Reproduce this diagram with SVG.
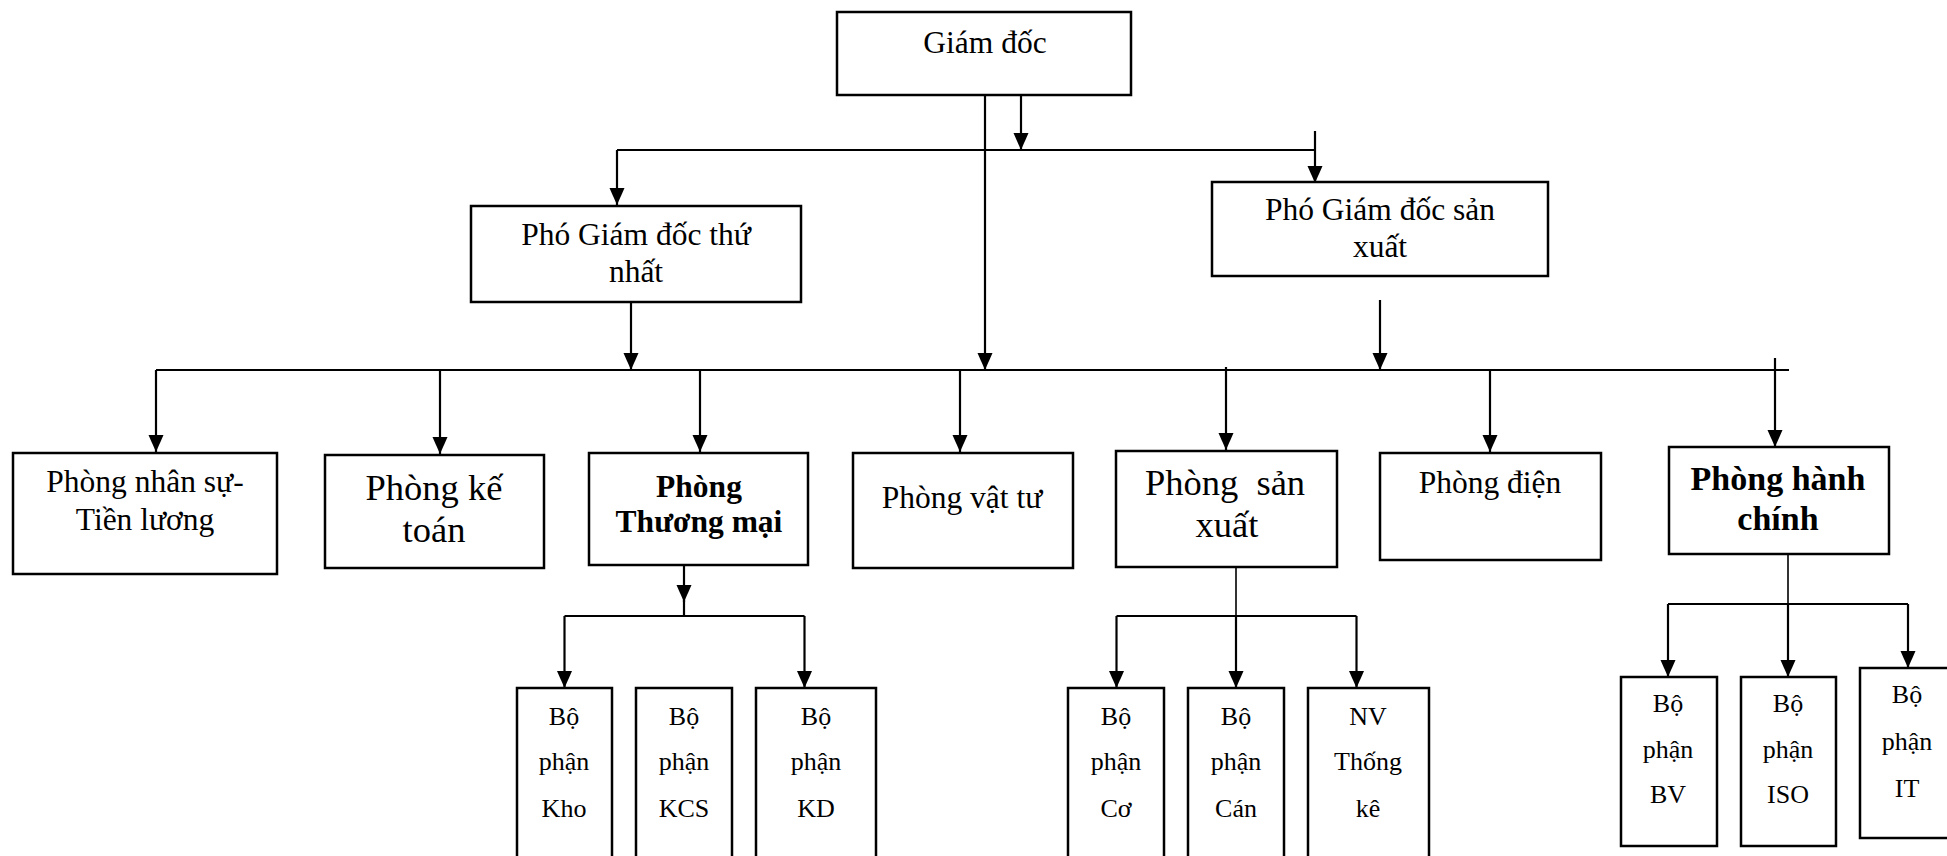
<svg xmlns="http://www.w3.org/2000/svg" width="1947" height="856" viewBox="0 0 1947 856">
  <style>
    .box { fill: #fff; stroke: #000; stroke-width: 2.5; }
    .t { font-family: "Liberation Serif", "Times New Roman", serif; font-size: 31.5px; text-anchor: middle; fill: #000; }
    .big { font-size: 36.5px; }
    .b { font-weight: bold; }
    .hb { font-size: 34px; font-weight: bold; }
    .sm { font-size: 26px; }
    .ln { fill: none; stroke: #000; stroke-width: 2.2; }
    .thin { stroke-width: 1.6; }
  </style>
  <defs>
    <marker id="arr" markerUnits="userSpaceOnUse" markerWidth="18" markerHeight="16" refX="17" refY="7.5" orient="auto">
      <path d="M0,0 L17,7.5 L0,15 z" fill="#000"/>
    </marker>
  </defs>

  <rect width="1947" height="856" fill="#fff"/>

  <!-- connectors -->
  <g id="connectors">
    <!-- director level -->
    <line class="ln" x1="985" y1="96" x2="985" y2="370" marker-end="url(#arr)"/>
    <line class="ln" x1="1021" y1="96" x2="1021" y2="150" marker-end="url(#arr)"/>
    <line class="ln" x1="617" y1="150" x2="1315" y2="150"/>
    <line class="ln" x1="617" y1="150" x2="617" y2="205" marker-end="url(#arr)"/>
    <line class="ln" x1="1315" y1="131" x2="1315" y2="183" marker-end="url(#arr)"/>
    <!-- deputies to department bus -->
    <line class="ln" x1="631" y1="303" x2="631" y2="370" marker-end="url(#arr)"/>
    <line class="ln" x1="1380" y1="300" x2="1380" y2="370" marker-end="url(#arr)"/>
    <!-- department bus -->
    <line class="ln" x1="156" y1="370" x2="1789" y2="370"/>
    <line class="ln" x1="156" y1="370" x2="156" y2="452" marker-end="url(#arr)"/>
    <line class="ln" x1="440" y1="370" x2="440" y2="454" marker-end="url(#arr)"/>
    <line class="ln" x1="700" y1="370" x2="700" y2="452" marker-end="url(#arr)"/>
    <line class="ln" x1="960" y1="370" x2="960" y2="452" marker-end="url(#arr)"/>
    <line class="ln" x1="1226" y1="367" x2="1226" y2="450" marker-end="url(#arr)"/>
    <line class="ln" x1="1490" y1="370" x2="1490" y2="452" marker-end="url(#arr)"/>
    <line class="ln" x1="1775" y1="358" x2="1775" y2="447" marker-end="url(#arr)"/>
    <!-- trade department units -->
    <line class="ln" x1="684" y1="535" x2="684" y2="602" marker-end="url(#arr)"/>
    <line class="ln" x1="684" y1="600" x2="684" y2="616"/>
    <line class="ln" x1="564.5" y1="616" x2="804.5" y2="616"/>
    <line class="ln" x1="564.5" y1="616" x2="564.5" y2="688" marker-end="url(#arr)"/>
    <line class="ln" x1="804.5" y1="616" x2="804.5" y2="688" marker-end="url(#arr)"/>
    <!-- production department units -->
    <line class="ln thin" x1="1236" y1="567" x2="1236" y2="616"/>
    <line class="ln" x1="1116.5" y1="616" x2="1356.5" y2="616"/>
    <line class="ln" x1="1116.5" y1="616" x2="1116.5" y2="688" marker-end="url(#arr)"/>
    <line class="ln" x1="1236" y1="616" x2="1236" y2="688" marker-end="url(#arr)"/>
    <line class="ln" x1="1356.5" y1="616" x2="1356.5" y2="688" marker-end="url(#arr)"/>
    <!-- administration units -->
    <line class="ln thin" x1="1788" y1="554" x2="1788" y2="604"/>
    <line class="ln" x1="1668" y1="604" x2="1908" y2="604"/>
    <line class="ln" x1="1668" y1="604" x2="1668" y2="677" marker-end="url(#arr)"/>
    <line class="ln" x1="1788" y1="604" x2="1788" y2="677" marker-end="url(#arr)"/>
    <line class="ln" x1="1908" y1="604" x2="1908" y2="668" marker-end="url(#arr)"/>
  </g>

  <g id="giam-doc">
    <rect class="box" x="837" y="12" width="294" height="83"/>
    <text class="t" x="985" y="53">Giám đốc</text>
  </g>

  <g id="pho-gd-thu-nhat">
    <rect class="box" x="471" y="206" width="330" height="96"/>
    <text class="t" x="636" y="245">Phó Giám đốc thứ</text>
    <text class="t" x="636" y="282">nhất</text>
  </g>

  <g id="pho-gd-san-xuat">
    <rect class="box" x="1212" y="182" width="336" height="94"/>
    <text class="t" x="1380" y="220">Phó Giám đốc sản</text>
    <text class="t" x="1380" y="257">xuất</text>
  </g>

  <g id="phong-nhan-su">
    <rect class="box" x="13" y="453" width="264" height="121"/>
    <text class="t" x="145" y="492">Phòng nhân sự-</text>
    <text class="t" x="145" y="530">Tiền lương</text>
  </g>

  <g id="phong-ke-toan">
    <rect class="box" x="325" y="455" width="219" height="113"/>
    <text class="t big" x="434" y="500">Phòng kế</text>
    <text class="t big" x="434" y="542">toán</text>
  </g>

  <g id="phong-thuong-mai">
    <rect class="box" x="589" y="453" width="219" height="112"/>
    <text class="t b" x="699" y="497">Phòng</text>
    <text class="t b" x="699" y="532">Thương mại</text>
  </g>

  <g id="phong-vat-tu">
    <rect class="box" x="853" y="453" width="220" height="115"/>
    <text class="t" x="962" y="508">Phòng vật tư</text>
  </g>

  <g id="phong-san-xuat">
    <rect class="box" x="1116" y="451" width="221" height="116"/>
    <text class="t big" x="1225" y="495" xml:space="preserve">Phòng  sản</text>
    <text class="t big" x="1227" y="537">xuất</text>
  </g>

  <g id="phong-dien">
    <rect class="box" x="1380" y="453" width="221" height="107"/>
    <text class="t" x="1490" y="493">Phòng điện</text>
  </g>

  <g id="phong-hanh-chinh">
    <rect class="box" x="1669" y="447" width="220" height="107"/>
    <text class="t hb" x="1778" y="490">Phòng hành</text>
    <text class="t hb" x="1778" y="530">chính</text>
  </g>

  <g id="bp-kho">
    <rect class="box" x="517" y="688" width="95" height="200"/>
    <text class="t sm" x="564" y="725">Bộ</text>
    <text class="t sm" x="564" y="770">phận</text>
    <text class="t sm" x="564" y="817">Kho</text>
  </g>

  <g id="bp-kcs">
    <rect class="box" x="636" y="688" width="96" height="200"/>
    <text class="t sm" x="684" y="725">Bộ</text>
    <text class="t sm" x="684" y="770">phận</text>
    <text class="t sm" x="684" y="817">KCS</text>
  </g>

  <g id="bp-kd">
    <rect class="box" x="756" y="688" width="120" height="200"/>
    <text class="t sm" x="816" y="725">Bộ</text>
    <text class="t sm" x="816" y="770">phận</text>
    <text class="t sm" x="816" y="817">KD</text>
  </g>

  <g id="bp-co">
    <rect class="box" x="1068" y="688" width="96" height="200"/>
    <text class="t sm" x="1116" y="725">Bộ</text>
    <text class="t sm" x="1116" y="770">phận</text>
    <text class="t sm" x="1116" y="817">Cơ</text>
  </g>

  <g id="bp-can">
    <rect class="box" x="1188" y="688" width="96" height="200"/>
    <text class="t sm" x="1236" y="725">Bộ</text>
    <text class="t sm" x="1236" y="770">phận</text>
    <text class="t sm" x="1236" y="817">Cán</text>
  </g>

  <g id="nv-thong-ke">
    <rect class="box" x="1308" y="688" width="121" height="200"/>
    <text class="t sm" x="1368" y="725">NV</text>
    <text class="t sm" x="1368" y="770">Thống</text>
    <text class="t sm" x="1368" y="817">kê</text>
  </g>

  <g id="bp-bv">
    <rect class="box" x="1621" y="677" width="96" height="169"/>
    <text class="t sm" x="1668" y="712">Bộ</text>
    <text class="t sm" x="1668" y="758">phận</text>
    <text class="t sm" x="1668" y="803">BV</text>
  </g>

  <g id="bp-iso">
    <rect class="box" x="1741" y="677" width="95" height="169"/>
    <text class="t sm" x="1788" y="712">Bộ</text>
    <text class="t sm" x="1788" y="758">phận</text>
    <text class="t sm" x="1788" y="803">ISO</text>
  </g>

  <g id="bp-it">
    <rect class="box" x="1860" y="668" width="92" height="170"/>
    <text class="t sm" x="1907" y="703">Bộ</text>
    <text class="t sm" x="1907" y="750">phận</text>
    <text class="t sm" x="1907" y="797">IT</text>
  </g>
</svg>
